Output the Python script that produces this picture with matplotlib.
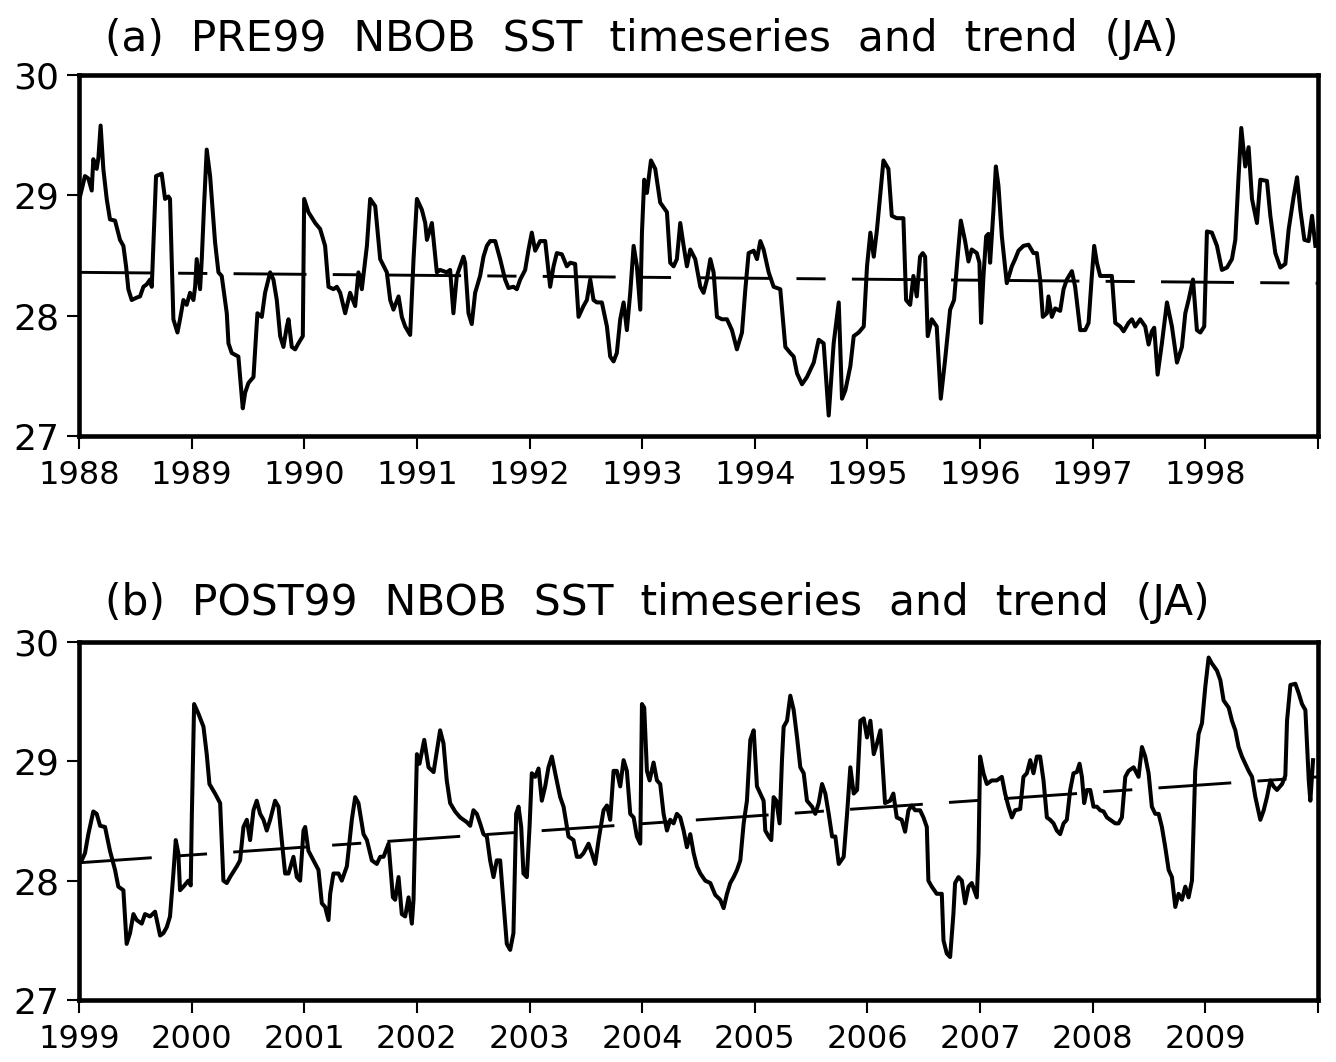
import numpy as np
import matplotlib
matplotlib.use('Agg')
import matplotlib.pyplot as plt

# ---- data (decimal year offset from first year, SST in deg C) ----
pre_off = [0.009, 0.053, 0.083, 0.113, 0.127, 0.157, 0.172, 0.192, 0.216, 0.246, 0.275, 0.320, 0.364, 0.394,
           0.418, 0.438, 0.468, 0.512, 0.542, 0.572, 0.601, 0.631, 0.646, 0.684, 0.734, 0.764, 0.794, 0.808,
           0.823, 0.838, 0.874, 0.897, 0.927, 0.956, 0.986, 1.016, 1.031, 1.045, 1.075, 1.090, 1.110, 1.134,
           1.164, 1.208, 1.238, 1.267, 1.312, 1.327, 1.356, 1.415, 1.454, 1.475, 1.504, 1.549, 1.584, 1.623,
           1.652, 1.697, 1.726, 1.756, 1.786, 1.815, 1.845, 1.860, 1.889, 1.919, 1.948, 1.987, 1.999, 2.037,
           2.097, 2.141, 2.185, 2.215, 2.259, 2.289, 2.319, 2.363, 2.407, 2.452, 2.481, 2.511, 2.556, 2.585,
           2.630, 2.674, 2.733, 2.763, 2.792, 2.837, 2.866, 2.896, 2.940, 2.970, 3.000, 3.044, 3.074, 3.089,
           3.133, 3.177,
           3.206, 3.265, 3.295, 3.324, 3.354, 3.384, 3.413, 3.428, 3.458, 3.487, 3.517, 3.561, 3.591, 3.621,
           3.650, 3.695, 3.739, 3.783, 3.813, 3.857, 3.887, 3.917, 3.961, 3.991, 4.020, 4.050, 4.094, 4.139,
           4.183, 4.213, 4.242, 4.287, 4.331, 4.361, 4.405, 4.435, 4.479, 4.509, 4.539, 4.568, 4.598, 4.642,
           4.687, 4.716, 4.746, 4.775, 4.805, 4.835, 4.864, 4.894, 4.924, 4.953, 4.983, 4.998, 5.018, 5.042,
           5.078, 5.116, 5.160, 5.220, 5.249, 5.279, 5.308, 5.338, 5.368, 5.397, 5.427, 5.471, 5.516, 5.545,
           5.575, 5.605, 5.634, 5.664, 5.708, 5.753, 5.797, 5.841, 5.886, 5.916, 5.945, 5.990, 6.019, 6.049,
           6.078, 6.123, 6.167, 6.226, 6.271, 6.315, 6.345, 6.375, 6.419, 6.463, 6.523, 6.567, 6.611, 6.656,
           6.700, 6.745, 6.774, 6.804, 6.848, 6.878, 6.922, 6.967, 6.996, 7.026, 7.056, 7.085, 7.115,
           7.142, 7.186, 7.216, 7.260, 7.319, 7.343, 7.379, 7.408, 7.438, 7.467, 7.491, 7.512, 7.535, 7.571,
           7.615, 7.651, 7.689, 7.734, 7.769, 7.799, 7.829, 7.867, 7.897, 7.926, 7.971, 7.994, 8.009, 8.030,
           8.054, 8.074, 8.089, 8.119, 8.140, 8.163, 8.193, 8.237, 8.282, 8.311, 8.341, 8.385, 8.430, 8.474,
           8.504, 8.533, 8.557, 8.593, 8.607, 8.637, 8.667, 8.711, 8.741, 8.770, 8.815, 8.844, 8.889, 8.933,
           8.963, 8.992, 9.013, 9.037, 9.066, 9.126, 9.170, 9.200, 9.244, 9.274, 9.318, 9.348, 9.377, 9.422,
           9.466, 9.496, 9.525, 9.546, 9.576, 9.614, 9.659, 9.703, 9.748, 9.792, 9.822, 9.851, 9.890, 9.925,
           9.955, 9.990, 10.014, 10.058, 10.103, 10.147, 10.192, 10.236, 10.266, 10.295, 10.319, 10.354,
           10.384, 10.414, 10.458, 10.488, 10.547, 10.577, 10.621, 10.666, 10.710, 10.740, 10.784, 10.814,
           10.843, 10.879, 10.917, 10.947, 10.977]
pre_sst = [28.99, 29.16, 29.14, 29.04, 29.30, 29.22, 29.31, 29.58, 29.22, 28.97, 28.80, 28.79, 28.63, 28.58,
           28.41, 28.22, 28.13, 28.15, 28.16, 28.24, 28.26, 28.30, 28.24, 29.16, 29.18, 28.97, 28.99, 28.97,
           28.47, 27.97, 27.86, 27.97, 28.13, 28.09, 28.19, 28.13, 28.24, 28.47, 28.22, 28.47, 28.91, 29.38,
           29.16, 28.61, 28.36, 28.33, 28.02, 27.77, 27.69, 27.66, 27.23, 27.36, 27.44, 27.49, 28.02, 27.99,
           28.19, 28.36, 28.30, 28.13, 27.83, 27.74, 27.91, 27.97, 27.74, 27.72, 27.77, 27.83, 28.97, 28.86,
           28.77, 28.72, 28.58, 28.24, 28.22, 28.24, 28.19, 28.02, 28.19, 28.08, 28.36, 28.22, 28.58, 28.97,
           28.91, 28.47, 28.36, 28.13, 28.05, 28.16, 27.99, 27.91, 27.84, 28.47, 28.97, 28.88, 28.77, 28.63,
           28.77, 28.36,
           28.38, 28.36, 28.38, 28.02, 28.33, 28.41, 28.49, 28.44, 28.02, 27.93, 28.19, 28.33, 28.49, 28.58,
           28.62, 28.62, 28.47, 28.30, 28.23, 28.24, 28.22, 28.30, 28.38, 28.55, 28.69, 28.54, 28.62, 28.62,
           28.24, 28.41, 28.52, 28.51, 28.41, 28.44, 28.43, 27.99, 28.08, 28.13, 28.30, 28.13, 28.11, 28.11,
           27.91, 27.66, 27.62, 27.69, 27.97, 28.11, 27.88, 28.19, 28.58, 28.41, 28.05, 28.69, 29.13, 29.02,
           29.29, 29.22, 28.94, 28.86, 28.44, 28.41, 28.47, 28.77, 28.58, 28.41, 28.55, 28.47, 28.24, 28.19,
           28.30, 28.47, 28.36, 27.99, 27.97, 27.97, 27.88, 27.72, 27.86, 28.22, 28.52, 28.54, 28.47, 28.62,
           28.55, 28.36, 28.24, 28.22, 27.74, 27.69, 27.66, 27.52, 27.43, 27.49, 27.61, 27.80, 27.77, 27.17,
           27.77, 28.11, 27.31, 27.38, 27.58, 27.83, 27.86, 27.91, 28.41, 28.69, 28.49, 28.72, 29.02,
           29.29, 29.22, 28.83, 28.81, 28.81, 28.13, 28.09, 28.33, 28.16, 28.49, 28.52, 28.49, 27.83, 27.97,
           27.91, 27.31, 27.63, 28.05, 28.13, 28.47, 28.79, 28.62, 28.45, 28.55, 28.52, 28.44, 27.94, 28.33,
           28.66, 28.68, 28.44, 28.88, 29.24, 29.08, 28.66, 28.27, 28.41, 28.47, 28.54, 28.58, 28.59, 28.52,
           28.52, 28.30, 27.99, 28.02, 28.16, 27.99, 28.06, 28.04, 28.22, 28.30, 28.37, 28.24, 27.88, 27.88,
           27.94, 28.33, 28.58, 28.44, 28.33, 28.33, 28.33, 27.94, 27.91, 27.87, 27.94, 27.97, 27.91, 27.97,
           27.91, 27.76, 27.87, 27.90, 27.51, 27.77, 28.11, 27.91, 27.61, 27.74, 28.02, 28.13, 28.30, 27.88,
           27.86, 27.91, 28.70, 28.69, 28.58, 28.38, 28.40, 28.47, 28.63, 29.16, 29.56, 29.24,
           29.40, 28.97, 28.77, 29.13, 29.12, 28.83, 28.52, 28.40, 28.43, 28.72, 28.99, 29.15,
           28.88, 28.63, 28.62, 28.83, 28.58]

post_off = [0.024, 0.053, 0.083, 0.127, 0.157, 0.187, 0.231, 0.275, 0.320, 0.349, 0.394, 0.423, 0.453, 0.483,
            0.512, 0.557, 0.586, 0.631, 0.675, 0.720, 0.749, 0.779, 0.808, 0.838, 0.859, 0.882, 0.897, 0.927,
            0.971, 0.992, 1.001, 1.022, 1.060, 1.105, 1.134, 1.158, 1.208, 1.253, 1.282, 1.312, 1.341, 1.401,
            1.430, 1.460, 1.490, 1.519, 1.549, 1.578, 1.608, 1.638, 1.667, 1.697, 1.741, 1.771, 1.800, 1.830,
            1.860, 1.904, 1.934, 1.963, 1.993, 2.008, 2.037, 2.082, 2.126, 2.156, 2.185, 2.215, 2.230, 2.259,
            2.304, 2.333, 2.378, 2.393, 2.422, 2.452, 2.481, 2.526, 2.556, 2.600, 2.644, 2.674, 2.704, 2.748,
            2.787, 2.807, 2.837, 2.866, 2.896, 2.926, 2.955, 2.970, 3.000, 3.023, 3.065, 3.103, 3.148,
            3.206, 3.236, 3.265, 3.295, 3.339, 3.384, 3.443, 3.473, 3.502, 3.532, 3.561, 3.591, 3.621, 3.650,
            3.680, 3.709, 3.739, 3.769, 3.798, 3.828, 3.857, 3.881, 3.902, 3.926, 3.946, 3.976, 4.000, 4.020,
            4.050, 4.080, 4.109, 4.139, 4.168, 4.198, 4.228, 4.272, 4.302, 4.346, 4.390, 4.420, 4.450, 4.479,
            4.524, 4.553, 4.583, 4.613, 4.657, 4.687, 4.716, 4.746, 4.775, 4.805, 4.835, 4.864, 4.894, 4.924,
            4.953, 4.983, 4.998, 5.018, 5.042, 5.066, 5.101, 5.131, 5.160, 5.190, 5.220, 5.249, 5.279, 5.308,
            5.338, 5.368, 5.397, 5.427, 5.457, 5.486, 5.516, 5.560, 5.605, 5.649, 5.693, 5.723, 5.753, 5.782,
            5.812, 5.842, 5.871, 5.901, 5.930, 5.960, 5.990, 6.019, 6.049, 6.078, 6.093, 6.123, 6.146, 6.167,
            6.191, 6.220, 6.241, 6.256, 6.286, 6.315, 6.345, 6.375, 6.404, 6.434, 6.463, 6.508, 6.537, 6.567,
            6.597, 6.626, 6.656, 6.686, 6.715, 6.745, 6.789, 6.819, 6.848, 6.878, 6.908, 6.937, 6.967, 6.996,
            7.026, 7.056, 7.085, 7.115,
            7.156, 7.201, 7.230, 7.260, 7.304, 7.334, 7.364, 7.393, 7.423, 7.467, 7.497, 7.527, 7.541, 7.571,
            7.615, 7.660, 7.675, 7.704, 7.734, 7.763, 7.778, 7.808, 7.838, 7.867, 7.897, 7.926, 7.971, 7.986,
            8.000, 8.030, 8.060, 8.104, 8.148, 8.193, 8.222, 8.252, 8.282, 8.311, 8.356, 8.385, 8.415, 8.445,
            8.474, 8.504, 8.533, 8.563, 8.593, 8.622, 8.652, 8.681, 8.711, 8.741, 8.770, 8.800, 8.829, 8.859,
            8.883, 8.904, 8.924, 8.948, 8.978, 9.007, 9.037, 9.066, 9.096, 9.126, 9.155, 9.200, 9.229, 9.259,
            9.289, 9.318, 9.363, 9.407, 9.437, 9.466, 9.496, 9.525, 9.555, 9.585, 9.614, 9.644, 9.674, 9.703,
            9.733, 9.762, 9.792, 9.822, 9.851, 9.881, 9.910, 9.940, 9.970, 9.999, 10.029, 10.058, 10.103,
            10.133, 10.162, 10.207, 10.236, 10.266, 10.295, 10.325, 10.355, 10.384, 10.414, 10.444, 10.488,
            10.518, 10.547, 10.577, 10.606, 10.636, 10.681, 10.710, 10.725, 10.755, 10.799, 10.829, 10.858,
            10.888, 10.918, 10.932, 10.956]
post_sst = [28.17, 28.23, 28.39, 28.58, 28.56, 28.46, 28.45, 28.25, 28.09, 27.95, 27.92, 27.47, 27.56, 27.72,
            27.67, 27.64, 27.72, 27.70, 27.74, 27.54, 27.56, 27.61, 27.70, 28.06, 28.34, 28.23, 27.92, 27.95,
            28.00, 27.96, 28.51, 29.48, 29.40, 29.29, 29.06, 28.81, 28.73, 28.65, 28.00, 27.98, 28.03, 28.12,
            28.17, 28.45, 28.51, 28.34, 28.59, 28.67, 28.56, 28.51, 28.42, 28.51, 28.67, 28.62, 28.34, 28.06,
            28.06, 28.20, 28.03, 28.00, 28.42, 28.45, 28.25, 28.17, 28.09, 27.81, 27.78, 27.67, 27.89, 28.06,
            28.06, 28.00, 28.12, 28.25, 28.51, 28.70, 28.65, 28.39, 28.34, 28.17, 28.14, 28.20, 28.20, 28.31,
            27.86, 27.84, 28.03, 27.72, 27.70, 27.86, 27.64, 27.84, 29.06, 28.98, 29.18, 28.95, 28.91,
            29.26, 29.15, 28.84, 28.65, 28.58, 28.53, 28.49, 28.46, 28.59, 28.56, 28.48, 28.39, 28.37, 28.17,
            28.03, 28.17, 28.17, 27.81, 27.47, 27.42, 27.56, 28.56, 28.62, 28.45, 28.06, 28.03, 28.45, 28.90,
            28.87, 28.94, 28.67, 28.79, 28.95, 29.04, 28.90, 28.70, 28.62, 28.37, 28.34, 28.20, 28.20, 28.23,
            28.31, 28.23, 28.14, 28.34, 28.59, 28.63, 28.51, 28.92, 28.92, 28.79, 29.01, 28.92, 28.56, 28.53,
            28.37, 28.31, 29.48, 29.45, 28.92, 28.84, 28.99, 28.84, 28.81, 28.56, 28.42, 28.51, 28.48, 28.56,
            28.53, 28.42, 28.28, 28.39, 28.23, 28.12, 28.06, 28.00, 27.98, 27.88, 27.84, 27.77, 27.89, 27.98,
            28.03, 28.09, 28.17, 28.48, 28.67, 29.18, 29.26, 28.79, 28.73, 28.67, 28.42, 28.37, 28.34, 28.70,
            28.67, 28.48, 29.01, 29.29, 29.34, 29.55, 29.43, 29.20, 28.95, 28.90, 28.67, 28.62, 28.56, 28.65,
            28.81, 28.73, 28.56, 28.37, 28.37, 28.14, 28.20, 28.56, 28.95, 28.73, 28.76, 29.34, 29.36, 29.20,
            29.34, 29.06, 29.15, 29.26,
            28.65, 28.67, 28.73, 28.53, 28.51, 28.41, 28.59, 28.63, 28.59, 28.59, 28.53, 28.45, 28.00, 27.95,
            27.89, 27.89, 27.50, 27.39, 27.36, 27.72, 27.98, 28.03, 28.00, 27.81, 27.95, 27.98, 27.86, 28.23,
            29.04, 28.90, 28.81, 28.84, 28.84, 28.87, 28.73, 28.62, 28.53, 28.59, 28.60, 28.87, 28.90, 29.01,
            28.90, 29.04, 29.04, 28.84, 28.53, 28.51, 28.48, 28.42, 28.39, 28.48, 28.51, 28.76, 28.90, 28.91,
            28.98, 28.87, 28.65, 28.76, 28.76, 28.62, 28.62, 28.59, 28.58, 28.53, 28.51, 28.48, 28.48, 28.53,
            28.87, 28.92, 28.95, 28.87, 29.12, 29.04, 28.90, 28.62, 28.56, 28.56, 28.45, 28.28, 28.09, 28.03,
            27.78, 27.89, 27.84, 27.95, 27.86, 28.00, 28.92, 29.23, 29.32, 29.62, 29.87, 29.82, 29.76,
            29.68, 29.51, 29.45, 29.34, 29.26, 29.12, 29.04, 28.98, 28.92, 28.87, 28.70, 28.51,
            28.59, 28.70, 28.84, 28.79, 28.76, 28.81, 28.88, 29.34, 29.64, 29.65, 29.57, 29.48,
            29.43, 28.84, 28.67, 29.01]

# linear trend end points (start, end of period)
pre_trend = [28.36, 28.27]
post_trend = [28.15, 28.87]

pre_years = list(range(1988, 2000))
post_years = list(range(1999, 2011))
titles = ['(a)  PRE99  NBOB  SST  timeseries  and  trend  (JA)',
          '(b)  POST99  NBOB  SST  timeseries  and  trend  (JA)']

W, H = 1336, 1062
fig = plt.figure(figsize=(W / 100, H / 100), dpi=100)
plt.rcParams['font.family'] = ['DejaVu Sans']


def panel(rect, years, off, sst, trend, title, title_base):
    ax = fig.add_axes(rect)
    x = years[0] + np.array(off)
    ax.plot(x, sst, color='black', lw=2.9, solid_joinstyle='round')
    ax.plot([years[0], years[-1]], trend, color='black', lw=2.1,
            linestyle=(0, (25, 9, 10, 9)))
    ax.set_xlim(years[0], years[-1])
    ax.set_ylim(27, 30)
    ax.set_yticks([27, 28, 29, 30])
    ax.set_yticklabels(['27', '28', '29', '30'], fontsize=26)
    ax.set_xticks(years)
    ax.set_xticklabels([str(y) for y in years[:-1]] + [''], fontsize=23)
    ax.tick_params(direction='out', length=9, width=1.5, pad=8)
    ax.tick_params(axis='y', pad=5)
    for s in ax.spines.values():
        s.set_linewidth(3.3)
    fig.text(105 / W, 1 - title_base / H, title, fontsize=30.5, ha='left', va='baseline')
    return ax


panel([79 / W, 1 - 436 / H, 1239 / W, 361 / H], pre_years, pre_off, pre_sst, pre_trend,
      titles[0], 51)
panel([79 / W, 1 - 1000 / H, 1239 / W, 358 / H], post_years, post_off, post_sst, post_trend,
      titles[1], 615)

fig.savefig('out.png', dpi=100)
